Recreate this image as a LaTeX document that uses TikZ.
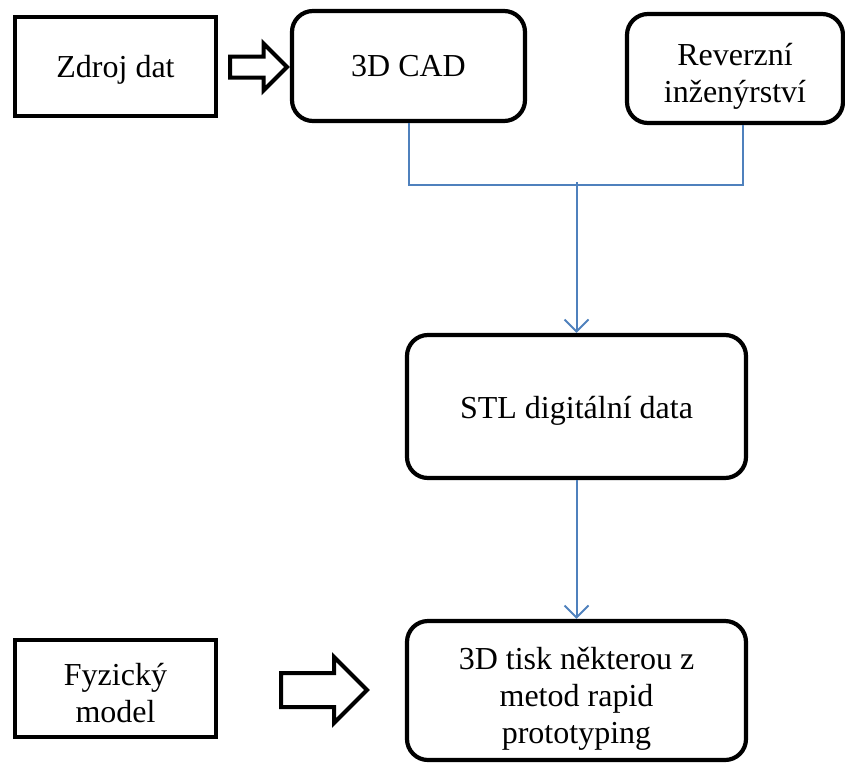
\documentclass[tikz,border=0pt]{standalone}
\usepackage{fontspec}
\setmainfont{Liberation Serif}
\usetikzlibrary{arrows.meta,shapes.arrows}
\definecolor{linkblue}{RGB}{79,129,189}
% text sits a little low in its box: #1 = extra space on top
\newcommand{\lowtext}[2]{\raisebox{0pt}[\dimexpr\height+#1\relax]{\begin{tabular}{@{}c@{}}#2\end{tabular}}}

\begin{document}
\begin{tikzpicture}[x=1pt,y=-1pt]
	\tikzstyle{sbox} = [draw, line width=4.2pt, align=center, font=\fontsize{32}{37}\selectfont]
	\tikzstyle{rbox} = [sbox, rounded corners=21pt]
	\tikzstyle{hollow} = [shape=single arrow, draw, line width=4pt, inner sep=0, minimum width=0, single arrow tip angle=90, anchor=tail]
	\tikzstyle{link} = [draw=linkblue, line width=2pt]
	\tikzstyle{linkarrow} = [link, -{Straight Barb[length=12pt,width=24pt]}]

	\useasboundingbox (0,0) rectangle (845,763);

	\node [sbox, minimum width=201pt, minimum height=99pt] (zdroj) at (115.5,66.5) {\lowtext{8pt}{Zdroj dat}};
	\node [rbox, minimum width=233pt, minimum height=110pt] (cad) at (408.5,66) {\lowtext{7pt}{3D CAD}};
	\node [rbox, minimum width=216pt, minimum height=109pt] (rev) at (735,68.5) {\lowtext{17pt}{Reverzní\\inženýrství}};
	\node [rbox, minimum width=339pt, minimum height=143pt] (stl) at (576.5,406.5) {\lowtext{9pt}{STL digitální data}};
	\node [rbox, minimum width=339pt, minimum height=139pt] (tisk) at (576.5,690.5) {\lowtext{17pt}{3D tisk některou z\\metod rapid\\prototyping}};
	\node [sbox, minimum width=201pt, minimum height=97pt] (fyz) at (115.5,688.5) {\lowtext{16pt}{Fyzický\\model}};

	\node [hollow, inner ysep=8.5pt, single arrow head extend=13pt, minimum height=57pt] (a1) at (228,67) {};
	\node [hollow, inner ysep=15pt, single arrow head extend=16pt, minimum height=86pt] (a2) at (279,690) {};

	\coordinate (j) at (576.5,185);
	\coordinate (jt) at (576.5,182);
	\draw [link] (cad.south) |- (j) -| ([xshift=8pt]rev.south);
	\draw [linkarrow] (jt) -- (stl.north);
	\draw [linkarrow] (stl) -- (tisk);
\end{tikzpicture}
\end{document}
